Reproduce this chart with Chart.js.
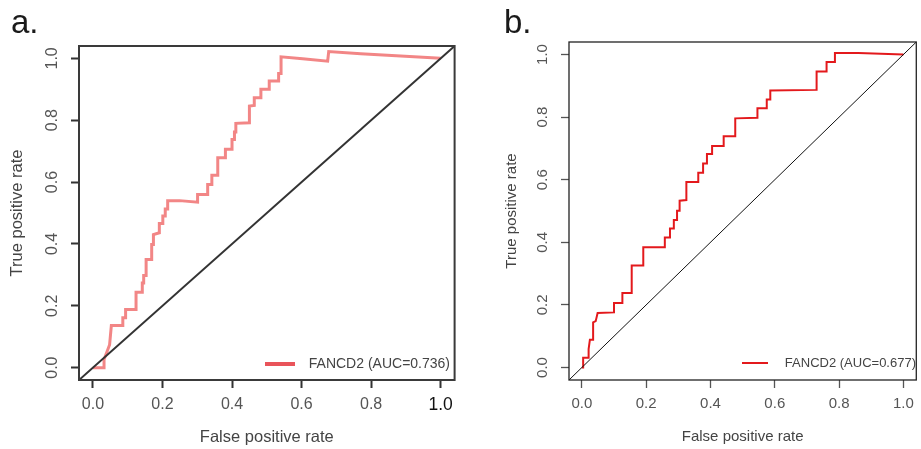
<!DOCTYPE html>
<html>
<head>
<meta charset="utf-8">
<script src="https://cdn.jsdelivr.net/npm/chart.js@4.4.1/dist/chart.umd.min.js"></script>
<style>
  html, body { margin: 0; padding: 0; background: #fff; }
  #wrap { position: relative; width: 921px; height: 449px; }
  canvas { position: absolute; top: 0; }
  #rocA { left: 0; }
  #rocB { left: 460px; }
</style>
</head>
<body>
<div id="wrap">
  <canvas id="rocA" width="460" height="449"></canvas>
  <canvas id="rocB" width="461" height="449"></canvas>
</div>
<script>
// ROC curves for FANCD2 in two cohorts
const tickValues = [0, 0.2, 0.4, 0.6, 0.8, 1.0];
const axisMin = -0.04;
const axisMax = 1.04;

// cohort a
const fprA = [0, 0.032, 0.032, 0.041, 0.048, 0.053, 0.086, 0.086, 0.094, 0.094, 0.124, 0.124, 0.142, 0.142,
  0.146, 0.146, 0.153, 0.153, 0.169, 0.169, 0.174, 0.174, 0.191, 0.191, 0.201, 0.201, 0.208, 0.208, 0.215,
  0.215, 0.249, 0.301, 0.301, 0.330, 0.330, 0.342, 0.342, 0.359, 0.359, 0.381, 0.381, 0.400, 0.400, 0.407,
  0.407, 0.411, 0.411, 0.450, 0.450, 0.464, 0.464, 0.483, 0.483, 0.507, 0.507, 0.534, 0.534, 0.541, 0.541,
  0.603, 0.675, 0.678, 0.770, 1.0];
const tprA = [0, 0, 0.026, 0.053, 0.074, 0.136, 0.136, 0.161, 0.161, 0.188, 0.188, 0.244, 0.244, 0.274,
  0.274, 0.298, 0.298, 0.350, 0.350, 0.398, 0.398, 0.430, 0.436, 0.466, 0.466, 0.490, 0.490, 0.513, 0.513,
  0.540, 0.540, 0.535, 0.560, 0.560, 0.592, 0.592, 0.622, 0.622, 0.679, 0.679, 0.706, 0.706, 0.738, 0.738,
  0.762, 0.762, 0.790, 0.792, 0.846, 0.848, 0.873, 0.873, 0.900, 0.900, 0.927, 0.927, 0.951, 0.951, 1.005,
  0.999, 0.991, 1.022, 1.015, 1.0];

// cohort b
const fprB = [0, 0.004, 0.004, 0.021, 0.021, 0.025, 0.035, 0.035, 0.043, 0.049, 0.100, 0.100, 0.126, 0.126,
  0.155, 0.155, 0.191, 0.191, 0.258, 0.258, 0.274, 0.274, 0.286, 0.286, 0.296, 0.296, 0.304, 0.304, 0.325,
  0.325, 0.362, 0.362, 0.377, 0.377, 0.389, 0.389, 0.405, 0.405, 0.441, 0.441, 0.477, 0.477, 0.546, 0.546,
  0.575, 0.575, 0.586, 0.586, 0.730, 0.730, 0.761, 0.761, 0.787, 0.787, 0.860, 1.0];
const tprB = [0, 0, 0.031, 0.031, 0.059, 0.089, 0.089, 0.144, 0.148, 0.174, 0.176, 0.206, 0.206, 0.238,
  0.238, 0.326, 0.326, 0.384, 0.384, 0.415, 0.415, 0.444, 0.444, 0.471, 0.471, 0.501, 0.501, 0.533, 0.535,
  0.593, 0.593, 0.622, 0.622, 0.652, 0.652, 0.682, 0.682, 0.708, 0.708, 0.739, 0.739, 0.796, 0.798, 0.828,
  0.828, 0.856, 0.856, 0.885, 0.887, 0.946, 0.946, 0.976, 0.976, 1.005, 1.005, 1.0];

const FONT = 'Liberation Sans, Arial, sans-serif';

// box around the plotting region, like R's box()
const framePlugin = {
  id: 'frame',
  afterDatasetsDraw(chart, args, opts) {
    const { ctx, chartArea: a } = chart;
    ctx.save();
    ctx.strokeStyle = opts.color;
    ctx.lineWidth = opts.width;
    ctx.strokeRect(a.left, a.top, a.right - a.left, a.bottom - a.top);
    ctx.restore();
  }
};

// vertical tick labels on the y axis
const yLabelsPlugin = {
  id: 'yLabels',
  afterDraw(chart, args, opts) {
    const { ctx } = chart;
    const scale = chart.scales.y;
    ctx.save();
    ctx.fillStyle = opts.color;
    ctx.font = opts.size + 'px ' + FONT;
    ctx.textAlign = 'center';
    ctx.textBaseline = 'middle';
    scale.ticks.forEach(t => {
      ctx.save();
      ctx.translate(opts.x, scale.getPixelForValue(t.value));
      ctx.rotate(-Math.PI / 2);
      ctx.fillText(t.value.toFixed(1), 0, 0);
      ctx.restore();
    });
    ctx.restore();
  }
};

// legend inside the bottom-right corner plus the panel letter
const rocLegendPlugin = {
  id: 'rocLegend',
  afterDraw(chart, args, opts) {
    const { ctx } = chart;
    const ds = chart.data.datasets[0];
    ctx.save();
    ctx.strokeStyle = opts.lineColor;
    ctx.lineWidth = opts.lineWidth;
    ctx.beginPath();
    ctx.moveTo(opts.lineX0, opts.y);
    ctx.lineTo(opts.lineX1, opts.y);
    ctx.stroke();
    ctx.fillStyle = opts.textColor;
    ctx.font = opts.textSize + 'px ' + FONT;
    ctx.textAlign = 'right';
    ctx.textBaseline = 'middle';
    ctx.fillText(ds.label, opts.textRight, opts.y);
    ctx.fillStyle = '#1a1a1a';
    ctx.font = opts.tagSize + 'px ' + FONT;
    ctx.textAlign = 'left';
    ctx.textBaseline = 'alphabetic';
    ctx.fillText(opts.tag, opts.tagX, opts.tagY);
    ctx.restore();
  }
};

function isLastTick(o, c) {
  return o.strongLast && c.tick && c.tick.value === 1;
}

function rocChart(id, o) {
  const points = o.fpr.map((x, i) => ({ x: x, y: o.tpr[i] }));
  return new Chart(document.getElementById(id), {
    type: 'scatter',
    data: {
      datasets: [
        {
          label: o.label,
          data: points,
          showLine: true,
          borderColor: o.color,
          borderWidth: o.width,
          pointRadius: 0,
          order: 1
        },
        {
          label: 'reference',
          data: [{ x: axisMin, y: axisMin }, { x: axisMax, y: axisMax }],
          showLine: true,
          borderColor: o.diagColor,
          borderWidth: o.diagWidth,
          pointRadius: 0,
          order: 0
        }
      ]
    },
    options: {
      responsive: false,
      animation: false,
      layout: { padding: o.padding },
      plugins: {
        legend: { display: false },
        tooltip: { enabled: false },
        frame: { color: o.frameColor, width: o.frameWidth },
        yLabels: { x: o.yLabelX, size: o.tickSize, color: '#555' },
        rocLegend: o.legend
      },
      scales: {
        x: {
          type: 'linear',
          min: axisMin,
          max: axisMax,
          afterBuildTicks: s => { s.ticks = tickValues.map(v => ({ value: v })); },
          afterFit: s => { s.height = o.xAxisHeight; },
          border: { display: false },
          grid: { drawOnChartArea: false, tickLength: 8, tickWidth: o.tickWidth, tickColor: o.tickColor },
          ticks: {
            padding: 7,
            callback: v => v.toFixed(1),
            color: c => isLastTick(o, c) ? '#111' : '#555',
            font: c => ({ family: FONT, size: isLastTick(o, c) ? o.tickSize + 1.5 : o.tickSize })
          },
          title: {
            display: true,
            text: 'False positive rate',
            color: '#444',
            font: { family: FONT, size: o.titleSize },
            padding: { top: 0, bottom: o.xTitlePad }
          }
        },
        y: {
          type: 'linear',
          min: axisMin,
          max: axisMax,
          afterBuildTicks: s => { s.ticks = tickValues.map(v => ({ value: v })); },
          afterFit: s => { s.width = o.yAxisWidth; },
          border: { display: false },
          grid: { drawOnChartArea: false, tickLength: 8, tickWidth: o.tickWidth, tickColor: o.tickColor },
          ticks: { display: false },
          title: {
            display: true,
            text: 'True positive rate',
            color: '#444',
            font: { family: FONT, size: o.titleSize },
            padding: { top: o.yTitlePad, bottom: 0 }
          }
        }
      }
    },
    plugins: [framePlugin, yLabelsPlugin, rocLegendPlugin]
  });
}

rocChart('rocA', {
  label: 'FANCD2 (AUC=0.736)',
  fpr: fprA, tpr: tprA,
  color: '#f28686', width: 3,
  diagColor: '#333', diagWidth: 2,
  frameColor: '#3a3a3a', frameWidth: 2,
  tickColor: '#333', tickWidth: 2,
  padding: { left: 0, top: 46, right: 4, bottom: 0 },
  yAxisWidth: 79, xAxisHeight: 69,
  yLabelX: 53, tickSize: 16, titleSize: 16.5, xTitlePad: 2, yTitlePad: 8,
  strongLast: true,
  legend: {
    lineColor: '#e9545a', lineWidth: 4, lineX0: 265, lineX1: 295, y: 364,
    textColor: '#444', textSize: 14, textRight: 450,
    tag: 'a.', tagX: 11, tagY: 33, tagSize: 33
  }
});

rocChart('rocB', {
  label: 'FANCD2 (AUC=0.677)',
  fpr: fprB, tpr: tprB,
  color: '#e3191c', width: 2,
  diagColor: '#111', diagWidth: 1,
  frameColor: '#222', frameWidth: 1.3,
  tickColor: '#555', tickWidth: 1.3,
  padding: { left: 0, top: 42, right: 4, bottom: 0 },
  yAxisWidth: 109, xAxisHeight: 69,
  yLabelX: 83, tickSize: 15, titleSize: 15, xTitlePad: 3, yTitlePad: 43,
  strongLast: false,
  legend: {
    lineColor: '#e3191c', lineWidth: 2, lineX0: 282, lineX1: 308, y: 363,
    textColor: '#444', textSize: 13, textRight: 456,
    tag: 'b.', tagX: 44, tagY: 33, tagSize: 33
  }
});
</script>
</body>
</html>
